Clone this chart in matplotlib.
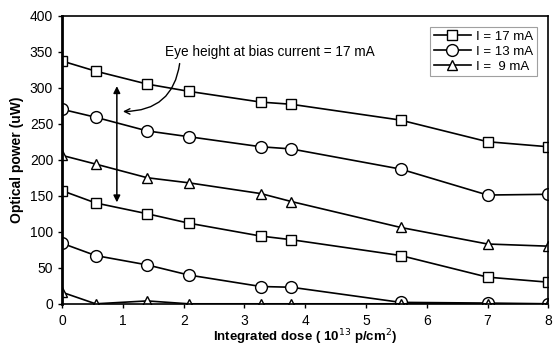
import numpy as np
import matplotlib
matplotlib.use("Agg")
import matplotlib.pyplot as plt

plt.rcParams['font.family'] = ['Liberation Sans', 'DejaVu Sans']

# dose points (10^13 p/cm^2)
dose = [0, 0.55, 1.4, 2.08, 3.27, 3.77, 5.57, 7.0, 8.0]

# upper / lower level of each eye, per bias current
sq_hi = [337, 323, 305, 295, 280, 277, 255, 225, 218]
sq_lo = [157, 140, 125, 112, 94, 89, 67, 37, 30]
ci_hi = [270, 259, 240, 232, 218, 215, 187, 151, 152]
ci_lo = [84, 67, 54, 40, 24, 23, 2, 1, 0]
tr_hi = [206, 194, 175, 168, 153, 142, 106, 83, 80]
tr_lo = [16, 0, 4, 0, 0, 0, 0, 0, 0]

labels = ['I = 17 mA', 'I = 13 mA', 'I =  9 mA']

fig, ax = plt.subplots(figsize=(5.55, 3.48), dpi=100)
fig.subplots_adjust(left=0.112, right=0.988, top=0.955, bottom=0.127)

style = dict(color='black', lw=1.2, mfc='white', mec='black', mew=1.0)
ax.plot(dose, sq_hi, marker='s', ms=7, label=labels[0], **style)
ax.plot(dose, sq_lo, marker='s', ms=7, **style)
ax.plot(dose, ci_hi, marker='o', ms=8.5, label=labels[1], **style)
ax.plot(dose, ci_lo, marker='o', ms=8.5, **style)
ax.plot(dose, tr_hi, marker='^', ms=7, label=labels[2], **style)
ax.plot(dose, tr_lo, marker='^', ms=7, **style)

ax.set_xlim(0, 8)
ax.set_ylim(0, 400)
ax.set_xticks(range(0, 9))
ax.set_yticks(range(0, 401, 50))
ax.tick_params(labelsize=10, length=3, direction='out', width=1)
ax.tick_params(axis='x', pad=4)
for side in ['top', 'right', 'bottom']:
    ax.spines[side].set_linewidth(1.2)
ax.spines['left'].set_linewidth(2)

ax.set_xlabel('Integrated dose ( 10$^{13}$ p/cm$^{2}$)', fontsize=9.5,
              fontweight='bold', labelpad=0)
ax.set_ylabel('Optical power (uW)', fontsize=10, fontweight='bold', labelpad=4)

# eye height marker
ax.annotate('', xy=(0.9, 306), xytext=(0.9, 137),
            arrowprops=dict(arrowstyle='<|-|>', color='black', lw=1.1,
                            mutation_scale=10))
ax.annotate('Eye height at bias current = 17 mA', xy=(1.0, 267),
            xytext=(1.7, 349), fontsize=9.8, va='center',
            arrowprops=dict(arrowstyle='->', color='black', lw=1,
                            connectionstyle='arc3,rad=-0.45',
                            shrinkA=1, shrinkB=0,
                            relpos=(0.07, 0.0)))

leg = ax.legend(loc='upper right', fontsize=9.5, frameon=True, fancybox=False,
                edgecolor='#888888', handlelength=2.8, borderpad=0.3,
                labelspacing=0.2, handletextpad=0.4,
                bbox_to_anchor=(0.99, 0.985))
leg.get_frame().set_linewidth(0.8)

fig.savefig('out.png', dpi=100)
